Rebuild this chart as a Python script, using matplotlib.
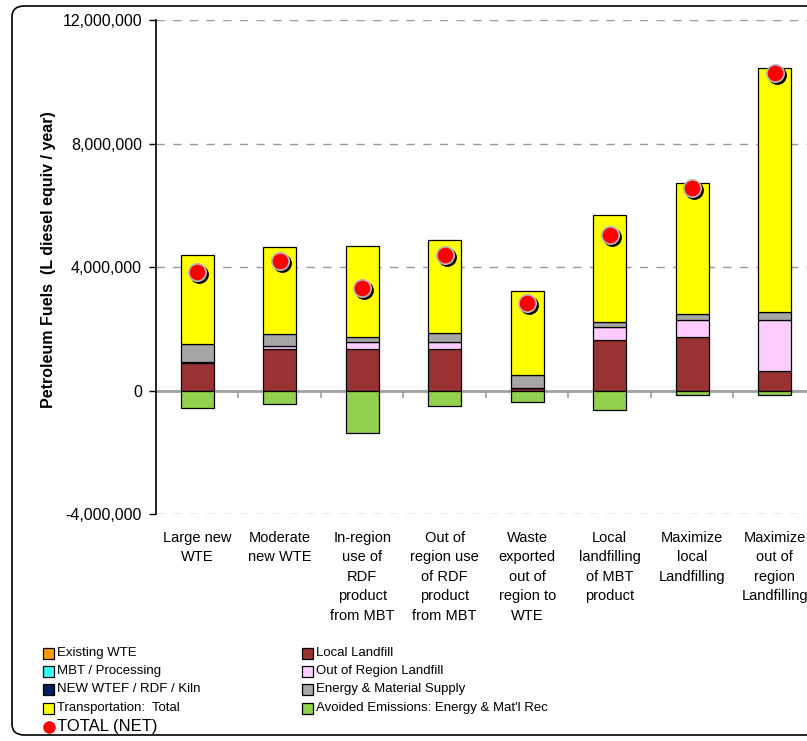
import numpy as np
import matplotlib
matplotlib.use("Agg")
import matplotlib.pyplot as plt
import matplotlib.transforms as mtransforms
from matplotlib.patches import FancyBboxPatch, Rectangle
from matplotlib.ticker import FuncFormatter

plt.rcParams['font.family'] = ['Liberation Sans', 'DejaVu Sans']

# Escenarios
escenarios = ["Large new\nWTE", "Moderate\nnew WTE", "In-region\nuse of\nRDF\nproduct\nfrom MBT",
              "Out of\nregion use\nof RDF\nproduct\nfrom MBT", "Waste\nexported\nout of\nregion to\nWTE",
              "Local\nlandfilling\nof MBT\nproduct", "Maximize\nlocal\nLandfilling",
              "Maximize\nout of\nregion\nLandfilling"]

# Componentes (L diesel equiv / año)
existing_wte = [0, 0, 0, 0, 0, 0, 0, 0]
mbt = [0, 0, 0, 0, 0, 0, 0, 0]
new_wtef = [0, 0, 0, 0, 0, 0, 0, 0]
local_landfill = [900000, 1350000, 1350000, 1350000, 90000, 1640000, 1730000, 630000]
out_region_landfill = [40000, 100000, 230000, 230000, 0, 420000, 560000, 1660000]
energia_material = [580000, 390000, 150000, 290000, 400000, 150000, 190000, 240000]
transporte = [2870000, 2800000, 2960000, 3020000, 2740000, 3460000, 4230000, 7910000]
evitadas = [-550000, -430000, -1370000, -510000, -380000, -620000, -160000, -160000]
total_neto = [3840000, 4210000, 3320000, 4380000, 2850000, 5050000, 6550000, 10270000]

series = [
    ("Existing WTE", existing_wte, "#FF9900"),
    ("MBT / Processing", mbt, "#33FFFF"),
    ("NEW WTEF / RDF / Kiln", new_wtef, "#002060"),
    ("Local Landfill", local_landfill, "#993333"),
    ("Out of Region Landfill", out_region_landfill, "#FFCCFF"),
    ("Energy & Material Supply", energia_material, "#A6A6A6"),
    ("Transportation:  Total", transporte, "#FFFF00"),
]

fig = plt.figure(figsize=(8.07, 7.41), dpi=100)
ax = fig.add_axes([0.1933, 0.3063, 0.8178, 0.6667])

x = np.arange(len(escenarios))
ancho = 0.4

# Barras apiladas positivas
base = np.zeros(len(x))
for nombre, valores, color in series:
    v = np.array(valores, dtype=float)
    ax.bar(x, v, ancho, bottom=base, color=color, edgecolor="black", linewidth=0.9, zorder=3)
    base += v

# Emisiones evitadas (negativas)
ax.bar(x, evitadas, ancho, color="#92D050", edgecolor="black", linewidth=0.9, zorder=3)

# Total neto con sombra
sombra = mtransforms.offset_copy(ax.transData, fig=fig, x=2, y=-2, units="dots")
ax.plot(x, total_neto, "o", color="black", markersize=12.5, transform=sombra, zorder=4)
ax.plot(x, total_neto, "o", color="#FF0000", markeredgecolor="#BBBBBB", markeredgewidth=1.2,
        markersize=12.5, zorder=5)

# Ejes
ax.set_xlim(-0.5, len(x) - 0.5)
ax.set_ylim(-4000000, 12000000)
ax.set_yticks([-4000000, 0, 4000000, 8000000, 12000000])
ax.yaxis.set_major_formatter(FuncFormatter(lambda v, p: f"{int(v):,}"))
ax.tick_params(axis="y", direction="out", length=5, width=1, pad=5, labelsize=11.5, colors="black")
for yv in [-4000000, 4000000, 8000000, 12000000]:
    ax.axhline(yv, color="#999999", linestyle=(0, (6, 6)), linewidth=1, zorder=1)
ax.axhline(0, color="#A0A0A0", linewidth=2, zorder=2)
ax.plot(x[:-1] + 0.5, np.zeros(len(x) - 1), linestyle="none", marker=3, markersize=5,
        color="#A0A0A0", markeredgewidth=1.2, zorder=2)

ax.set_xticks(x)
ax.set_xticklabels(escenarios, fontsize=10.5, linespacing=1.5)
ax.tick_params(axis="x", length=0, pad=12)

for lado in ["top", "right", "bottom"]:
    ax.spines[lado].set_visible(False)
ax.spines["left"].set_linewidth(1.2)

fig.text(0.06, 1 - 260 / 741, "Petroleum Fuels  (L diesel equiv / year)", rotation=90,
         ha="center", va="center", fontsize=11.5, fontweight="bold")

# Leyenda
col_x = [43 / 807, 302 / 807]
filas = [653, 671, 689, 708]
izq = series[:3] + [series[6]]
der = series[3:6] + [("Avoided Emissions: Energy & Mat'l Rec", evitadas, "#92D050")]
for col, grupo in enumerate([izq, der]):
    for fila, (nombre, _, color) in zip(filas, grupo):
        yf = 1 - fila / 741
        fig.add_artist(Rectangle((col_x[col], yf - 5.5 / 741), 11 / 807, 11 / 741,
                                 facecolor=color, edgecolor="black", linewidth=0.9,
                                 transform=fig.transFigure))
        fig.text(col_x[col] + 14 / 807, yf, nombre, va="center", fontsize=9.5)
fig.add_artist(plt.Line2D([49 / 807], [1 - 727 / 741], marker="o", color="#FF0000",
                          markersize=8, transform=fig.transFigure))
fig.text(57 / 807, 1 - 727 / 741, "TOTAL (NET)", va="center", fontsize=12)

# Marco
fig.add_artist(FancyBboxPatch((12 / 807, 6 / 741), 1.2, 729 / 741,
                              boxstyle="round,pad=0,rounding_size=0.015",
                              facecolor="none", edgecolor="black", linewidth=1.2,
                              transform=fig.transFigure, clip_on=False))

fig.savefig("out.png", dpi=100)
